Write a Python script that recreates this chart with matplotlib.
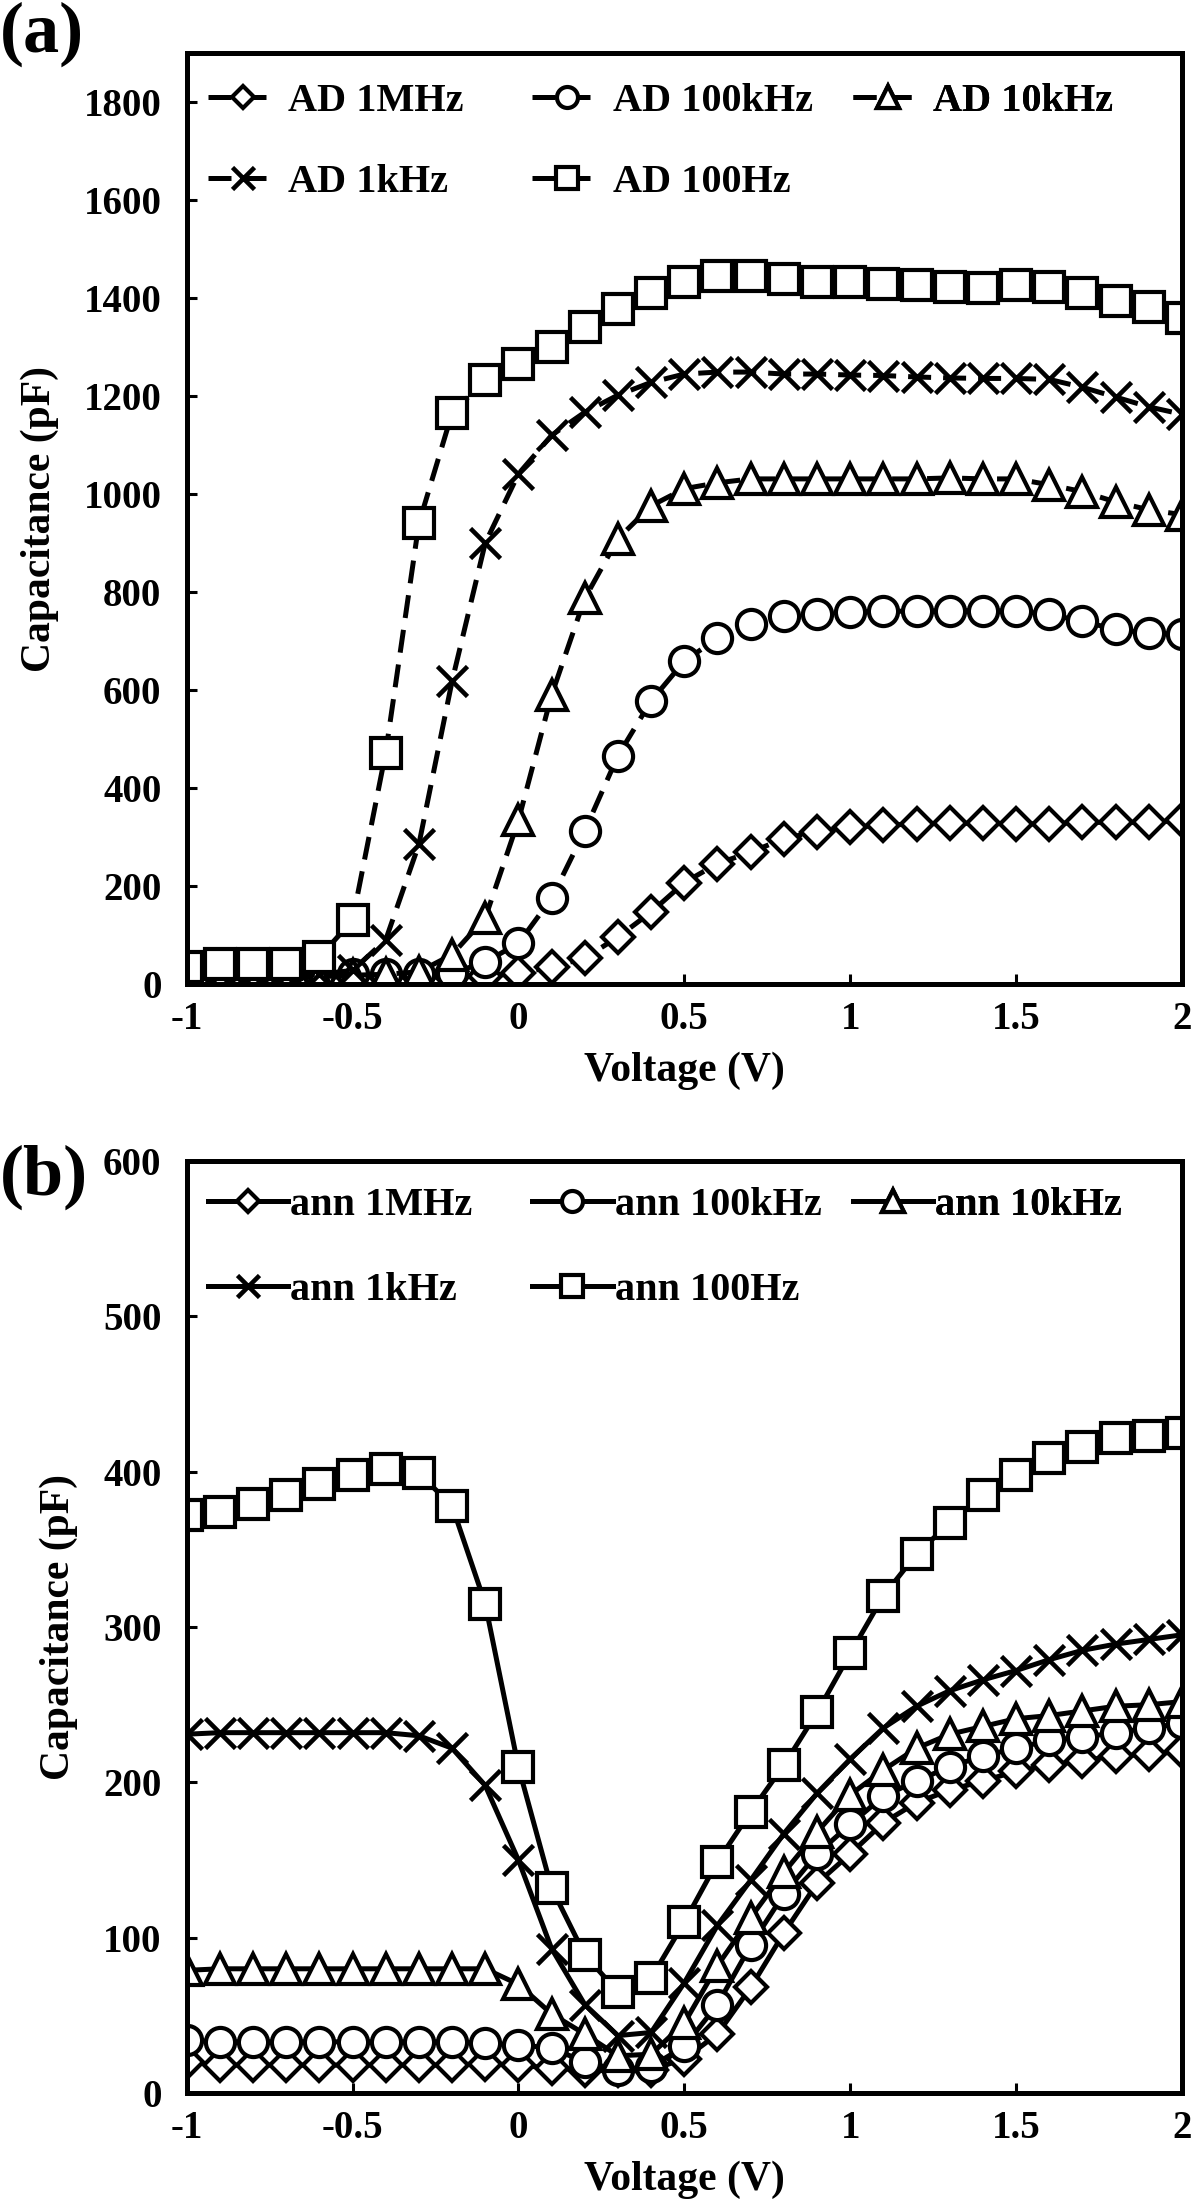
import numpy as np
import matplotlib
matplotlib.use('Agg')
import matplotlib.pyplot as plt

plt.rcParams['font.family'] = ['Liberation Serif', 'DejaVu Serif']
plt.rcParams['font.weight'] = 'bold'

#=== Data ===================================================================

volts = [-1.0, -0.9, -0.8, -0.7, -0.6, -0.5, -0.4, -0.3, -0.2, -0.1,
         0.0, 0.1, 0.2, 0.3, 0.4, 0.5, 0.6, 0.7, 0.8, 0.9,
         1.0, 1.1, 1.2, 1.3, 1.4, 1.5, 1.6, 1.7, 1.8, 1.9, 2.0]

# (a) as-deposited
ad_1mhz = [15, 15, 15, 15, 15, 15, 15, 15, 15, 16,
           22, 35, 53, 96, 147, 207, 246, 269, 297, 311,
           320, 324, 327, 328, 328, 327, 327, 330, 330, 330, 334]
ad_100khz = [20, 20, 20, 20, 20, 20, 20, 20, 22, 45,
             83, 175, 313, 466, 578, 659, 706, 734, 751, 755,
             759, 761, 761, 762, 762, 761, 755, 740, 724, 716, 714]
ad_10khz = [15, 15, 15, 15, 15, 18, 20, 25, 60, 135,
            334, 590, 787, 909, 976, 1011, 1023, 1031, 1031, 1031,
            1031, 1031, 1031, 1033, 1031, 1031, 1019, 1005, 984, 968, 958]
ad_1khz = [20, 20, 18, 18, 20, 28, 90, 285, 618, 900,
           1041, 1120, 1167, 1202, 1228, 1245, 1249, 1249, 1245, 1245,
           1243, 1242, 1239, 1237, 1236, 1236, 1234, 1218, 1198, 1178, 1163]
ad_100hz = [35, 40, 42, 42, 55, 130, 472, 940, 1165, 1233,
            1265, 1300, 1340, 1377, 1411, 1432, 1446, 1446, 1438, 1432,
            1432, 1428, 1426, 1422, 1420, 1426, 1422, 1411, 1395, 1381, 1360]

# (b) annealed
ann_1mhz = [20, 18, 18, 18, 18, 18, 18, 18, 18, 19,
            18, 16, 15, 15, 15, 22, 38, 68, 103, 135,
            154, 174, 187, 195, 201, 207, 211, 214, 217, 218, 220]
ann_100khz = [34, 33, 33, 33, 33, 33, 33, 33, 33, 32,
              31, 29, 20, 15, 17, 30, 57, 95, 128, 154,
              173, 191, 201, 210, 217, 222, 227, 229, 232, 235, 238]
ann_10khz = [79, 80, 80, 80, 80, 80, 80, 80, 80, 80,
             70, 51, 38, 24, 25, 45, 82, 113, 142, 168,
             192, 208, 222, 231, 236, 241, 243, 246, 249, 250, 252]
ann_1khz = [231, 232, 232, 232, 232, 232, 232, 230, 222, 198,
            150, 93, 57, 37, 39, 71, 108, 137, 167, 193,
            215, 235, 249, 259, 266, 272, 279, 285, 289, 292, 295]
ann_100hz = [372, 374, 379, 385, 392, 398, 402, 399, 378, 315,
             210, 132, 89, 65, 74, 110, 149, 181, 211, 245,
             283, 320, 347, 367, 385, 398, 409, 416, 422, 423, 425]

freqs = ['1MHz', '100kHz', '10kHz', '1kHz', '100Hz']
markers = ['D', 'o', '^', 'x', 's']
msizes = [16, 21, 22, 22, 22]

x_ticks = [-1, -0.5, 0, 0.5, 1, 1.5, 2]
x_ticklabels = ['-1', '-0.5', '0', '0.5', '1', '1.5', '2']

#=== Helpers ================================================================

def style_axes(ax, ymax, ytop, ystep):
    ax.set_xlim(-1, 2)
    ax.set_ylim(0, ymax)
    ax.set_xticks(x_ticks)
    ax.set_xticklabels(x_ticklabels)
    ax.set_yticks(np.arange(0, ytop + 1, ystep))
    for s in ax.spines.values():
        s.set_linewidth(3.6)
    ax.tick_params(direction='in', length=7, width=2.2, labelsize=28)
    ax.tick_params(axis='x', pad=12)
    ax.tick_params(axis='y', pad=18)
    ax.set_xlabel('Voltage (V)', fontsize=30, fontweight='bold', labelpad=10)
    ax.set_ylabel('Capacitance (pF)', fontsize=30, fontweight='bold', labelpad=18)


def draw_series(ax, series, ls):
    handles = []
    for y, m, ms, f in zip(series, markers, msizes, freqs):
        mew = 3.0 if m != 'x' else 3.3
        h, = ax.plot(volts, y, color='black', linestyle=ls, linewidth=3.6,
                     marker=m, markersize=ms, markerfacecolor='white',
                     markeredgecolor='black', markeredgewidth=mew,
                     dashes=(4.6, 2.4) if ls == '--' else (None, None))
        handles.append(h)
    return handles


def add_legend(ax, handles, labels, y_top, rowsep, hlen, hpad):
    # Excel style legend: 3 evenly spaced columns, filled row by row
    cols = [[0, 3], [1, 4], [2]]
    xs = [0.021, 0.347, 0.669]
    for col, x in zip(cols, xs):
        leg = ax.legend([handles[i] for i in col], [labels[i] for i in col],
                        loc='upper left', bbox_to_anchor=(x, y_top),
                        frameon=False, borderpad=0, borderaxespad=0,
                        handlelength=hlen, handletextpad=hpad,
                        labelspacing=rowsep, markerscale=0.72,
                        prop={'family': 'Liberation Serif', 'weight': 'bold', 'size': 29})
        ax.add_artist(leg)

#=== Figure =================================================================

fig = plt.figure(figsize=(12, 22.03), dpi=100)
ax_a = fig.add_axes([0.1555, 0.5533, 0.8295, 0.4226])
ax_b = fig.add_axes([0.1555, 0.0499, 0.8295, 0.4231])

ha = draw_series(ax_a, [ad_1mhz, ad_100khz, ad_10khz, ad_1khz, ad_100hz], '--')
style_axes(ax_a, 1900, 1800, 200)
add_legend(ax_a, ha, ['AD ' + f for f in freqs], 0.968, 1.09, 1.75, 0.25)

hb = draw_series(ax_b, [ann_1mhz, ann_100khz, ann_10khz, ann_1khz, ann_100hz], '-')
style_axes(ax_b, 600, 600, 100)
add_legend(ax_b, hb, ['ann ' + f for f in freqs], 0.972, 1.18, 2.0, 0.05)

fig.text(0.0, 0.9995, '(a)', fontsize=52, fontweight='bold', va='top', ha='left')
fig.text(0.0, 0.4805, '(b)', fontsize=52, fontweight='bold', va='top', ha='left')

fig.savefig('out.png', dpi=100)
